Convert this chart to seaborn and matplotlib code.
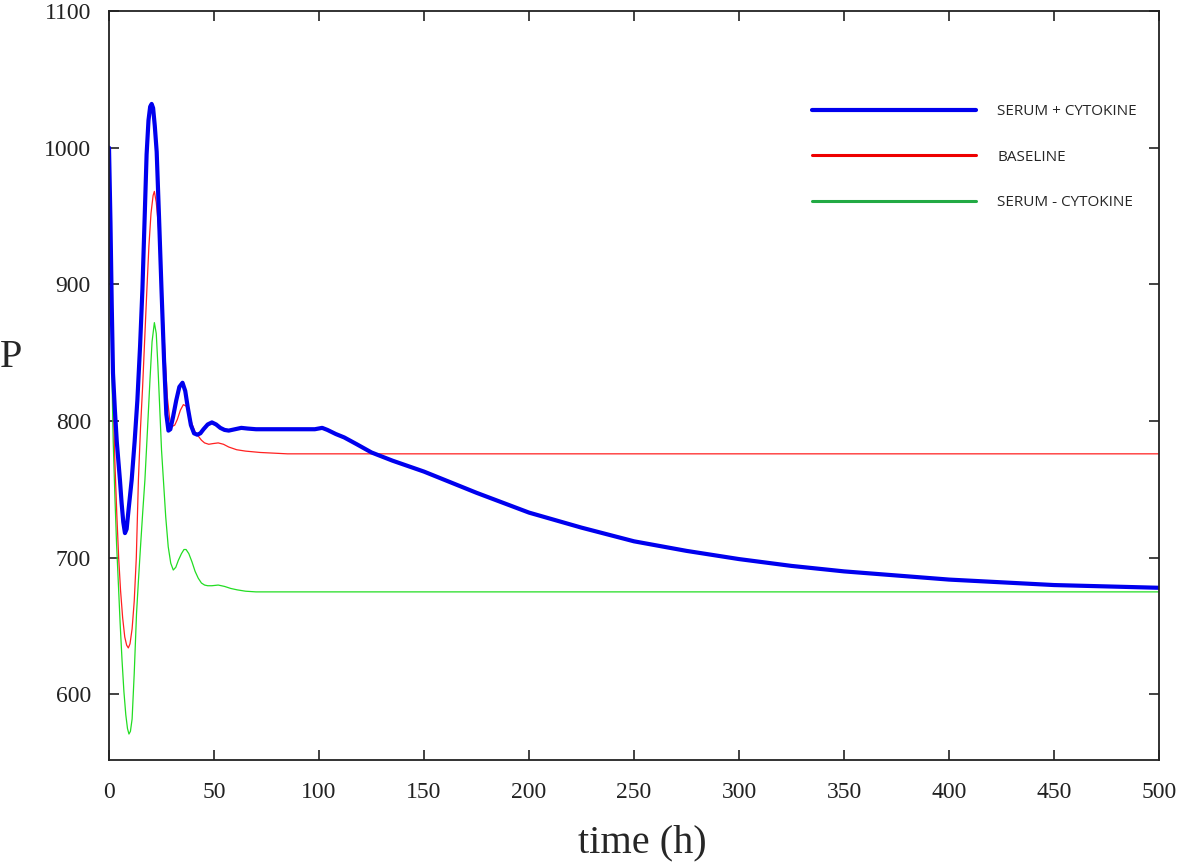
import numpy as np
import pandas as pd
import matplotlib
matplotlib.use('Agg')
import matplotlib.pyplot as plt
import seaborn as sns
from matplotlib.lines import Line2D

# values (time in h, P)
t_serum_cyt = [0, 0.7, 1.3, 1.9, 2.8, 3.7, 4.5, 5.2, 6.0, 6.8, 7.6, 8.4, 9.3, 10.8,
               12.2, 13.5, 14.8, 15.9, 17, 17.9, 18.8, 19.6, 20.3, 21, 21.8, 22.7,
               23.8, 25, 26.2, 27.3, 28.3, 29.2, 30.5, 32, 33.5, 35, 36.3, 37.5, 39,
               40.5, 42, 43.5, 45, 47, 49, 51, 53, 55, 57, 60, 63, 66, 70, 80, 90, 98,
               101.5, 104, 108, 112, 118, 125, 135, 150, 175, 200, 225, 250, 275,
               300, 325, 350, 375, 400, 450, 500]
p_serum_cyt = [1000, 945, 885, 835, 808, 785, 770, 757, 740, 726, 718, 721, 735, 757,
               785, 815, 855, 896, 950, 995, 1020, 1030, 1032, 1029, 1016, 997, 950,
               896, 845, 805, 793, 794, 803, 815, 825, 828, 822, 810, 797, 791, 790,
               791, 794, 797.5, 799, 797.5, 795, 793.5, 793, 794, 795, 794.5, 794,
               794, 794, 794, 795, 793.5, 790.5, 788, 783, 777, 771, 763, 747.5, 733,
               722, 712, 705, 699, 694, 690, 687, 684, 680, 678]

t_baseline = [0, 0.5, 1.2, 2, 2.8, 3.7, 4.6, 5.5, 6.5, 7.5, 8.4, 9.2, 10, 11, 12, 13,
              14, 15, 16, 17, 18, 19, 20, 21, 21.6, 22.5, 23.4, 24.3, 25.5, 26.7,
              27.8, 29, 30, 31.3, 32.5, 34, 35.4, 36.7, 38, 39.5, 41, 42.5, 44, 45.5,
              47.5, 49.5, 52, 54.5, 57, 60.8, 65, 72, 85, 100, 500]
p_baseline = [1000, 955, 890, 820, 770, 732, 700, 676, 656, 642, 636, 634, 637, 648,
              668, 700, 757, 795, 825, 860, 895, 928, 952, 965, 968, 960, 945, 923,
              885, 847, 817, 800, 796, 797, 801, 808, 812, 811, 806, 798, 792, 789,
              786, 784, 783, 783.5, 784, 783, 781, 779, 778, 777, 776, 776, 776]

t_serum_nocyt = [0, 0.5, 1.3, 2, 2.8, 3.6, 4.4, 5.3, 6.2, 7.1, 8, 8.8, 9.5, 10.2, 11,
                 12, 13.1, 14, 15, 16, 17.1, 18.3, 19.5, 20.5, 21.6, 22.5, 23.3, 24.2,
                 25, 25.9, 27, 28.2, 29.4, 30.6, 31.8, 33, 34.5, 35.7, 36.7, 38, 39.5,
                 41, 42.5, 44, 45.5, 47, 49, 52, 55, 58, 61, 65, 70, 100, 500]
p_serum_nocyt = [1000, 935, 840, 785, 745, 710, 683, 652, 625, 602, 585, 575, 571, 573,
                 582, 615, 659, 683, 708, 732, 757, 793, 830, 858, 872, 864, 840, 808,
                 779, 757, 730, 708, 696, 691, 693, 698, 703, 706, 706, 703, 697, 690,
                 685, 681.5, 680, 679.5, 679.5, 680, 679, 677.5, 676.5, 675.5, 675,
                 675, 675]

labels = ['SERUM + CYTOKINE', 'BASELINE', 'SERUM - CYTOKINE']
x_ticks = [0, 50, 100, 150, 200, 250, 300, 350, 400, 450, 500]
y_ticks = [600, 700, 800, 900, 1000, 1100]

sns.set_style('ticks')
plt.rcParams['font.family'] = ['Liberation Serif', 'DejaVu Serif']

fig = plt.figure(figsize=(11.81, 8.66), dpi=100)
ax = fig.add_axes([0.0923, 0.1224, 0.8891, 0.8649])

sns.lineplot(x=t_serum_nocyt, y=p_serum_nocyt, color='#22dd22', lw=0.9,
             estimator=None, sort=False, ax=ax)
sns.lineplot(x=t_baseline, y=p_baseline, color='#ff2020', lw=0.9,
             estimator=None, sort=False, ax=ax)
sns.lineplot(x=t_serum_cyt, y=p_serum_cyt, color='#0000ee', lw=3.0,
             estimator=None, sort=False, ax=ax)

ax.set_xlim(0, 500)
ax.set_ylim(552, 1100)
ax.set_xticks(x_ticks)
ax.set_yticks(y_ticks)
ax.tick_params(direction='in', length=7, width=1.2, top=True, right=True,
               labelsize=17, colors='#222222')
ax.tick_params(axis='x', pad=16)
ax.tick_params(axis='y', pad=13)
for s in ax.spines.values():
    s.set_linewidth(1.3)
    s.set_color('#222222')

ax.set_xlabel('time (h)', fontsize=29, va='center')
ax.xaxis.set_label_coords(0.508, -0.111)
ax.set_ylabel('P', fontsize=29, rotation=0, ha='center', va='center')
ax.yaxis.set_label_coords(-0.093, 0.538)

handles = [Line2D([], [], color='#0000ee', lw=3),
           Line2D([], [], color='#ee0000', lw=2.2),
           Line2D([], [], color='#22aa44', lw=2.2)]
ax.legend(handles, labels, frameon=False, handlelength=10.7, handletextpad=1.4,
          labelspacing=2.0, loc='upper left', bbox_to_anchor=(0.664, 0.884),
          borderaxespad=0, prop={'family': 'Open Sans', 'size': 11})

fig.savefig('out.png', dpi=100)
